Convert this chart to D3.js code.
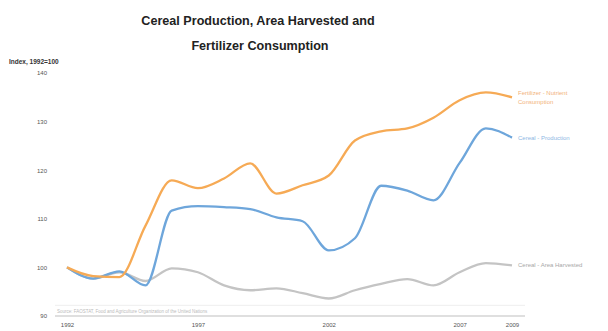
<!DOCTYPE html>
<html>
<head>
<meta charset="utf-8">
<script src="https://cdn.jsdelivr.net/npm/d3@7/dist/d3.min.js"></script>
<style>
  html, body { margin: 0; padding: 0; background: #fff; }
  svg { display: block; font-family: "Liberation Sans", Arial, sans-serif; }
</style>
</head>
<body>
<svg id="chart" width="608" height="331"></svg>
<script>
// Index values, 1992 = 100
const years = d3.range(1992, 2010);
const fertilizer = [100, 98.2, 98.0, 108.6, 117.9, 116.3, 118.3, 121.4, 115.2, 116.9, 118.9, 126.1, 128.0, 128.6, 130.8, 134.4, 136.0, 135.0];
const production = [100, 97.7, 99.2, 96.3, 111.7, 112.6, 112.4, 112.0, 110.3, 109.5, 103.5, 106.0, 116.8, 115.8, 113.8, 121.5, 128.6, 126.7];
const areaHarvested = [100, 97.7, 99.0, 97.2, 99.8, 99.0, 96.3, 95.3, 95.7, 94.7, 93.6, 95.3, 96.6, 97.6, 96.3, 99.0, 100.9, 100.4];

const seriesList = [
  { name: ["Cereal - Area Harvested"], values: areaHarvested, color: "#c4c4c4", text: "#a8a8a8" },
  { name: ["Cereal - Production"], values: production, color: "#6ea6db", text: "#8db8e4" },
  { name: ["Fertilizer - Nutrient", "Consumption"], values: fertilizer, color: "#f6aa55", text: "#f2b27a" }
];

const yTicks = [90, 100, 110, 120, 130, 140];
const xTicks = [1992, 1997, 2002, 2007, 2009];

const svg = d3.select("#chart");
const x = d3.scaleLinear().domain([1992, 2009]).range([67, 512]);
const y = d3.scaleLinear().domain([90, 140]).range([316, 73]);

// title
svg.append("text").attr("x", 258).attr("y", 25).attr("text-anchor", "middle")
  .attr("font-size", 12.6).attr("font-weight", "bold").attr("fill", "#222")
  .text("Cereal Production, Area Harvested and");
svg.append("text").attr("x", 260).attr("y", 50).attr("text-anchor", "middle")
  .attr("font-size", 12.6).attr("font-weight", "bold").attr("fill", "#222")
  .text("Fertilizer Consumption");

svg.append("text").attr("x", 9).attr("y", 64).attr("font-size", 6.5)
  .attr("font-weight", "bold").attr("fill", "#333").text("Index, 1992=100");

// y axis labels
const yAxis = d3.axisLeft(y).tickValues(yTicks).tickSize(0).tickPadding(0);
const gy = svg.append("g").attr("transform", "translate(47,0)").call(yAxis);
gy.select(".domain").remove();
gy.selectAll("text").attr("font-size", 6).attr("fill", "#555").attr("font-family", "Liberation Sans, Arial, sans-serif");

// baseline and faint reference line
svg.append("line").attr("x1", 55).attr("x2", 525).attr("y1", y(90)).attr("y2", y(90))
  .attr("stroke", "#d4d4d4").attr("stroke-width", 1.5);
svg.append("line").attr("x1", 55).attr("x2", 525).attr("y1", y(92.2)).attr("y2", y(92.2))
  .attr("stroke", "#eeeeee").attr("stroke-width", 1);

// x axis labels
const xAxis = d3.axisBottom(x).tickValues(xTicks).tickFormat(d3.format("d")).tickSize(0).tickPadding(0);
const gx = svg.append("g").attr("transform", "translate(0,323)").call(xAxis);
gx.select(".domain").remove();
gx.selectAll("text").attr("font-size", 6).attr("fill", "#555").attr("font-family", "Liberation Sans, Arial, sans-serif");

// source note
svg.append("text").attr("x", 57).attr("y", 313).attr("font-size", 4.5).attr("fill", "#bbb")
  .text("Source: FAOSTAT, Food and Agriculture Organization of the United Nations");

const line = d3.line().curve(d3.curveMonotoneX);

seriesList.forEach(s => {
  const pts = s.values.map((v, i) => [x(years[i]), y(v)]);
  svg.append("path").attr("d", line(pts)).attr("fill", "none")
    .attr("stroke", s.color).attr("stroke-width", 2.3).attr("stroke-linejoin", "round");
  const last = pts[pts.length - 1];
  const t = svg.append("text").attr("x", 518).attr("y", last[1] + 2 - (s.name.length - 1) * 4)
    .attr("font-size", 6).attr("fill", s.text);
  s.name.forEach((n, k) => t.append("tspan").attr("x", 518).attr("dy", k === 0 ? 0 : 9).text(n));
});
</script>
</body>
</html>
